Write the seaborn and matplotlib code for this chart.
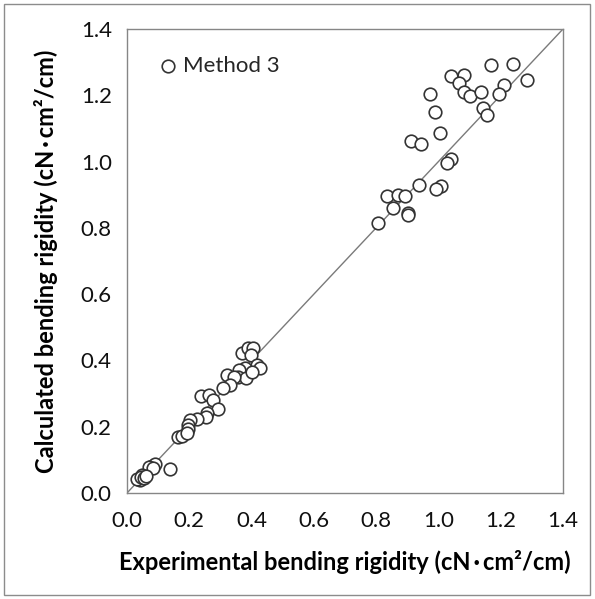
import matplotlib
matplotlib.use("Agg")
import matplotlib.pyplot as plt
import seaborn as sns
import pandas as pd
from matplotlib.patches import Rectangle

# Experimental vs calculated bending rigidity (cN·cm²/cm), Method 3
experimental = [
    1.168, 1.241, 1.285, 1.040, 1.082, 1.066, 1.211, 1.083, 1.101, 1.137,
    1.196, 0.972, 0.989, 1.144, 1.155, 1.006, 0.911, 0.945, 1.040, 1.027,
    0.939, 1.007, 0.993, 0.834, 0.871, 0.893, 0.855, 0.903, 0.901, 0.807,
    0.368, 0.388, 0.406, 0.398, 0.418, 0.428, 0.379, 0.361, 0.357, 0.382,
    0.400, 0.322, 0.344, 0.331, 0.309, 0.237, 0.264, 0.275, 0.293, 0.256,
    0.254, 0.224, 0.202, 0.197, 0.195, 0.163, 0.178, 0.192,
    0.080, 0.091, 0.070, 0.085, 0.139,
    0.048, 0.041, 0.032, 0.045, 0.055, 0.060,
]
calculated = [
    1.290, 1.294, 1.246, 1.257, 1.262, 1.238, 1.231, 1.211, 1.198, 1.209,
    1.204, 1.205, 1.151, 1.161, 1.142, 1.087, 1.062, 1.054, 1.007, 0.997,
    0.928, 0.925, 0.918, 0.896, 0.898, 0.896, 0.860, 0.845, 0.840, 0.814,
    0.422, 0.437, 0.437, 0.416, 0.386, 0.376, 0.378, 0.371, 0.351, 0.346,
    0.366, 0.356, 0.351, 0.326, 0.316, 0.293, 0.296, 0.281, 0.253, 0.240,
    0.228, 0.222, 0.220, 0.205, 0.192, 0.168, 0.172, 0.180,
    0.081, 0.087, 0.078, 0.075, 0.072,
    0.054, 0.039, 0.041, 0.049, 0.045, 0.050,
]
ticks = [0.0, 0.2, 0.4, 0.6, 0.8, 1.0, 1.2, 1.4]
tick_labels = ["0.0", "0.2", "0.4", "0.6", "0.8", "1.0", "1.2", "1.4"]

sns.set_theme(style="white")
plt.rcParams["font.family"] = ["Lato", "DejaVu Sans"]

df = pd.DataFrame({"exp": experimental, "calc": calculated})

fig = plt.figure(figsize=(5.95, 5.99), dpi=100)
ax = fig.add_axes([127 / 595, 1 - 493 / 599, 436 / 595, 464 / 599])

# 1:1 reference line
ax.plot([0, 1.4], [0, 1.4], color="#7a7a7a", lw=1.0, zorder=1)

sns.scatterplot(data=df, x="exp", y="calc", ax=ax, marker="o", s=82,
                facecolor="white", edgecolor="#333333", linewidth=1.2,
                label="Method 3", zorder=3)

ax.set_xlim(0, 1.4)
ax.set_ylim(0, 1.4)
ax.set_xticks(ticks)
ax.set_yticks(ticks)
ax.set_xticklabels(tick_labels)
ax.set_yticklabels(tick_labels)
ax.tick_params(axis="both", direction="in", length=7, width=1, color="#868686",
               labelsize=16, labelcolor="#111111")
ax.tick_params(axis="x", pad=13)
ax.tick_params(axis="y", pad=11)
for sp in ax.spines.values():
    sp.set_color("#868686")
    sp.set_linewidth(1.0)

label_unit = "(cN\u2009\u00b7\u2009cm\u00b2/cm)"
ax.set_xlabel("Experimental bending rigidity " + label_unit, fontsize=17,
              fontweight="bold", labelpad=14, color="black")
ax.set_ylabel("Calculated bending rigidity " + label_unit, fontsize=17,
              fontweight="bold", labelpad=16, color="black")

leg = ax.legend(loc="center left", bbox_to_anchor=(0.054, 0.92), frameon=False,
                handlelength=0.6, handletextpad=0.34, borderpad=0, fontsize=16)

# Thin frame around the whole figure
fig.patches.append(Rectangle((4 / 595, 4 / 599), 586 / 595, 591 / 599,
                             transform=fig.transFigure, fill=False,
                             edgecolor="#8c8c8c", lw=1.0))

fig.savefig("out.png", dpi=100)
